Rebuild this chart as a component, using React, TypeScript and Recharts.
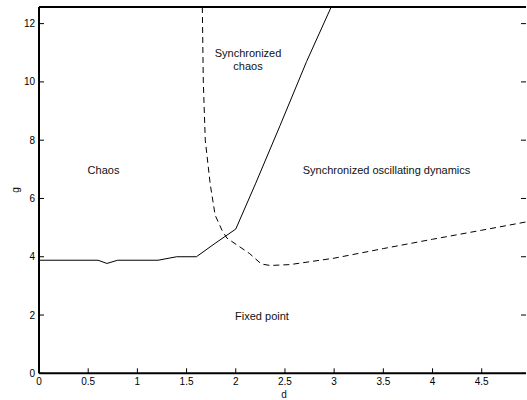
import React from 'react';
import { LineChart, Line, XAxis, YAxis } from 'recharts';

// boundary between chaos and the fixed point / synchronized oscillations (solid)
const solidD = [0, 0.6, 0.69, 0.8, 1.21, 1.4, 1.6, 1.79, 2.0, 2.2, 2.45, 2.72, 2.97];
const solidG = [3.88, 3.88, 3.77, 3.88, 3.88, 4.0, 4.0, 4.46, 4.95, 6.5, 8.5, 10.7, 12.57];

// synchronization boundary (dashed)
const dashD = [1.66, 1.67, 1.69, 1.74, 1.79, 1.86, 1.91, 2.14, 2.26, 2.35, 2.55, 3.0, 3.5, 4.0, 4.5, 4.96];
const dashG = [12.57, 10.0, 8.0, 6.5, 5.43, 4.91, 4.64, 4.11, 3.75, 3.7, 3.73, 3.95, 4.28, 4.6, 4.91, 5.2];

const xTicks = [0, 0.5, 1, 1.5, 2, 2.5, 3, 3.5, 4, 4.5];
const yTicks = [0, 2, 4, 6, 8, 10, 12];

const solidData = solidD.map((d, i) => ({ d, g: solidG[i] }));
const dashData = dashD.map((d, i) => ({ d, g: dashG[i] }));

const font = '"Liberation Sans", Arial, Helvetica, sans-serif';
const tickStyle = { fill: '#000', fontSize: 10, fontFamily: font };
const axisLine = { stroke: '#000', strokeWidth: 2 };
const tickLine = { stroke: '#000', strokeWidth: 1 };

export default function App() {
  return (
    <div style={{ position: 'absolute', left: 0, top: 0, width: 527, height: 400, overflow: 'hidden', background: '#fff' }}>
      <LineChart width={527} height={400} margin={{ top: 0, right: 0, bottom: 0, left: 0 }}>
        <XAxis
          dataKey="d"
          type="number"
          domain={[0, 4.95]}
          allowDataOverflow
          ticks={xTicks}
          height={26.7}
          tickSize={-5}
          tickMargin={10}
          tick={tickStyle}
          axisLine={axisLine}
          tickLine={tickLine}
        />
        <XAxis
          xAxisId="top"
          orientation="top"
          type="number"
          domain={[0, 4.95]}
          allowDataOverflow
          ticks={xTicks}
          height={7}
          tickSize={-5}
          tickFormatter={() => ''}
          axisLine={axisLine}
          tickLine={tickLine}
        />
        <YAxis
          type="number"
          domain={[0, 12.57]}
          allowDataOverflow
          ticks={yTicks}
          width={39}
          tickSize={-5}
          tickMargin={9}
          tick={tickStyle}
          axisLine={axisLine}
          tickLine={tickLine}
        />
        <YAxis
          yAxisId="right"
          orientation="right"
          type="number"
          domain={[0, 12.57]}
          allowDataOverflow
          ticks={yTicks}
          width={1}
          tickSize={-5}
          tickFormatter={() => ''}
          axisLine={false}
          tickLine={tickLine}
        />
        <Line
          data={solidData}
          dataKey="g"
          type="linear"
          stroke="#000"
          strokeWidth={1}
          dot={false}
          isAnimationActive={false}
        />
        <Line
          data={dashData}
          dataKey="g"
          type="linear"
          stroke="#000"
          strokeWidth={1}
          strokeDasharray="6 4"
          dot={false}
          isAnimationActive={false}
        />
      </LineChart>
      <svg width={527} height={400} style={{ position: 'absolute', left: 0, top: 0, pointerEvents: 'none' }}>
        <g fontFamily={font} fontSize={11} fill="#111" textAnchor="middle" dominantBaseline="central">
          <text x={103.5} y={170}>Chaos</text>
          <text x={248} y={53}>Synchronized</text>
          <text x={248} y={66}>chaos</text>
          <text x={386.5} y={170}>Synchronized oscillating dynamics</text>
          <text x={262} y={316}>Fixed point</text>
          <text x={284} y={394} fontSize={10}>d</text>
          <text x={15} y={190} fontSize={10} transform="rotate(-90 15 190)">g</text>
        </g>
      </svg>
    </div>
  );
}
